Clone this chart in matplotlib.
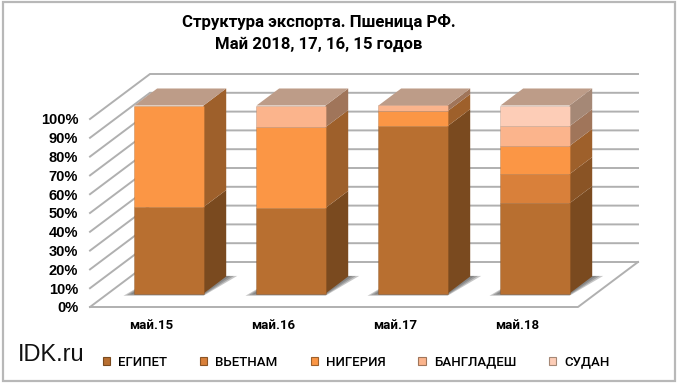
"""
Structure of Russian wheat exports, May 2015-2018: stacked 3D-look columns.
"""

import matplotlib
matplotlib.use('Agg')
import numpy as np
import matplotlib.pyplot as plt
from matplotlib.colors import to_rgba
from matplotlib.patches import Polygon, Rectangle

plt.rcParams['font.family'] = ['Liberation Sans', 'DejaVu Sans']
NARROW = ['Roboto', 'Liberation Sans', 'DejaVu Sans']

# ── Data (share of exports, %)
MONTHS  = ['май.15', 'май.16', 'май.17', 'май.18']
EGYPT   = [46.0, 45.5, 89.0, 48.0]
VIETNAM = [0.0, 0.0, 0.0, 15.5]
NIGERIA = [54.0, 43.0, 8.0, 15.0]
BANGLA  = [0.0, 11.5, 3.0, 10.5]
SUDAN   = [0.0, 0.0, 0.0, 11.0]
SERIES_NAMES = ['ЕГИПЕТ', 'ВЬЕТНАМ', 'НИГЕРИЯ', 'БАНГЛАДЕШ', 'СУДАН']
YTICKS = [0, 10, 20, 30, 40, 50, 60, 70, 80, 90, 100]

# ── Style
W, H = 680, 385
FRONT = ['#b86f30', '#d9803a', '#fb9645', '#fbb48c', '#fdcdb7']
SIDE  = ['#7a4a1f', '#8a5425', '#9e602b', '#a0755a', '#a58876']
TOP   = '#bd9c88'
GRID  = '#b0b0b0'
BAR_W = 0.566
# depth axis: full floor depth in data units, bars sit between Z0 and Z1
DX, DY = 60 / 122, 45 / 1.88
Z0, Z1 = 0.30, 0.678


def proj(x, y, z):
    return (x + DX * z, y + DY * z)


fig = plt.figure(figsize=(W / 100, H / 100), dpi=100, facecolor='white')
ax = fig.add_axes([90 / W, 1 - 307 / H, 488 / W, 188 / H])
ax.set_xlim(-0.5, 3.5)
ax.set_ylim(0, 100)
for s in ax.spines.values():
    s.set_visible(False)
ax.patch.set_visible(False)

# ── Walls and floor grid
for v in YTICKS:
    p0, p1, p2 = proj(-0.5, v, 0), proj(-0.5, v, 1), proj(3.5, v, 1)
    ax.plot([p0[0], p1[0], p2[0]], [p0[1], p1[1], p2[1]], color=GRID, lw=1.4,
            clip_on=False, zorder=1, solid_joinstyle='miter')
c = [proj(-0.5, 0, 0), proj(3.5, 0, 0), proj(3.5, 0, 1)]
ax.plot(*zip(*c), color=GRID, lw=1.4, clip_on=False, zorder=1)

# ── Columns, drawn left to right
stack = np.array([EGYPT, VIETNAM, NIGERIA, BANGLA, SUDAN])
for i in range(len(MONTHS)):
    l, r = i - BAR_W / 2, i + BAR_W / 2
    # soft floor shadow, a few stacked translucent layers
    for grow in (1.0, 0.7, 0.4):
        sh = [proj(l - 0.09 * grow, -1.2 * grow, Z0), proj(r, -1.2 * grow, Z0),
              proj(r + 0.09 * grow, 0.3, Z1), proj(l, 0.3, Z1)]
        ax.add_patch(Polygon(sh, closed=True, fc='#505050', ec='none', alpha=0.32,
                             clip_on=False, zorder=2))
    bottom = 0.0
    for k in range(stack.shape[0]):
        v = stack[k, i]
        if v <= 0:
            continue
        top = bottom + v
        ax.add_patch(Polygon([proj(r, bottom, Z0), proj(r, bottom, Z1),
                              proj(r, top, Z1), proj(r, top, Z0)], closed=True,
                             fc=SIDE[k], ec='none', clip_on=False, zorder=3))
        x0, y0 = proj(l, bottom, Z0)
        ax.add_patch(Rectangle((x0, y0), BAR_W, v, fc=FRONT[k],
                               ec=to_rgba(SIDE[k], 0.35), lw=0.6,
                               clip_on=False, zorder=4))
        bottom = top
    ax.add_patch(Polygon([proj(l, bottom, Z0), proj(r, bottom, Z0),
                          proj(r, bottom, Z1), proj(l, bottom, Z1)], closed=True,
                         fc=TOP, ec='none', clip_on=False, zorder=3))

# ── Axis labels
ax.set_yticks(YTICKS)
ax.set_yticklabels([f'{v}%' for v in YTICKS], fontsize=10.5, fontweight='bold')
ax.set_xticks(range(len(MONTHS)))
ax.set_xticklabels(MONTHS, fontsize=9.5, fontweight='bold', family=NARROW)
ax.tick_params(axis='y', length=0, pad=8.5)
ax.tick_params(axis='x', length=0, pad=8.5)

# ── Title and watermark
fig.text(319 / W, 1 - 33 / H, 'Структура экспорта. Пшеница РФ.\nМай 2018, 17, 16, 15 годов',
         ha='center', va='center', fontsize=12.1, fontweight='bold', linespacing=1.5,
         family=NARROW)
fig.text(18 / W, 1 - 355 / H, 'IDK.ru', ha='left', va='center', fontsize=17, color='#111111')

# ── Legend
handles = [Rectangle((0, 0), 1, 1, fc=FRONT[k], ec=SIDE[k], lw=0.8) for k in range(5)]
fig.legend(handles, SERIES_NAMES, ncols=5, loc='center left',
           bbox_to_anchor=(103 / W, 1 - 362 / H), frameon=False,
           prop={'family': NARROW, 'size': 9.5, 'weight': 'medium'},
           handlelength=0.55, handleheight=0.55, handletextpad=0.6,
           columnspacing=2.5, borderpad=0, borderaxespad=0)

# ── Outer frame
fig.add_artist(Rectangle((3 / W, 1 - 381 / H), 672 / W, 379.5 / H,
                         transform=fig.transFigure, fc='none', ec='#b8b8b8', lw=1.6))

fig.savefig('out.png', dpi=100)
plt.close(fig)
